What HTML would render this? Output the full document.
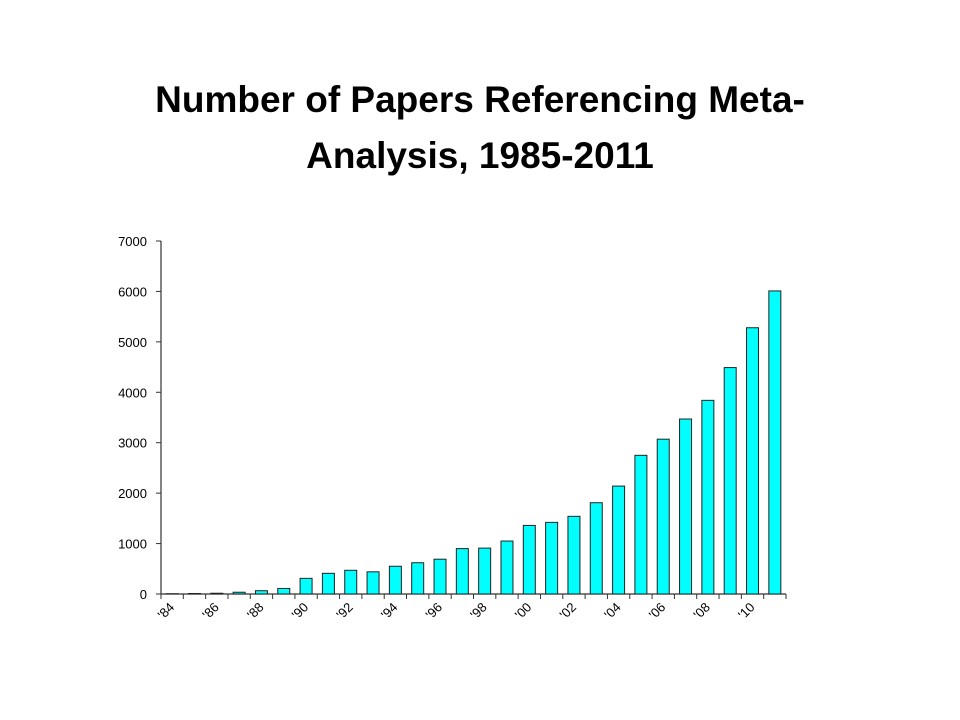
<!DOCTYPE html>
<html><head><meta charset="utf-8"><style>
html,body{margin:0;padding:0;background:#fff;}
#wrap{position:relative;width:960px;height:720px;overflow:hidden;font-family:"Liberation Sans",Arial,sans-serif;}
#title{position:absolute;left:0;top:72px;width:960px;text-align:center;font-weight:bold;font-size:37px;line-height:56px;color:#000;}
</style></head><body>
<div id="wrap">
<div id="title">Number of Papers Referencing Meta-<br>Analysis, 1985-2011</div>
<svg id="chart" width="960" height="720" style="position:absolute;left:0;top:0"></svg>
</div>
<script>
const categories=["'84","'85","'86","'87","'88","'89","'90","'91","'92","'93","'94","'95","'96","'97","'98","'99","'00","'01","'02","'03","'04","'05","'06","'07","'08","'09","'10","'11"];
const values=[5,10,15,35,65,110,310,410,470,440,550,620,690,900,910,1050,1360,1420,1540,1810,2140,2750,3070,3470,3840,4490,5280,6010];
const yTicks=[0,1000,2000,3000,4000,5000,6000,7000];
const NS="http://www.w3.org/2000/svg";
const svg=document.getElementById('chart');
const x0=161,x1=786,y0=594,yTop=241,yMax=7000;
const band=(x1-x0)/categories.length;
const yS=v=>y0-(v/yMax)*(y0-yTop);
const xC=i=>x0+band*(i+0.5);
function mk(t,a){const e=document.createElementNS(NS,t);for(const k in a)e.setAttribute(k,a[k]);svg.appendChild(e);return e;}
let e;
e=mk('line',{x1:x0,y1:yTop,x2:x0,y2:y0,stroke:'#333','stroke-width':1.2});


e=mk('line',{x1:x0,y1:y0,x2:x1,y2:y0,stroke:'#333','stroke-width':1.2});


yTicks.forEach(t=>{
  const y=yS(t);
  e=mk('line',{x1:x0-5,y1:y,x2:x0,y2:y,stroke:'#333'});
  
  
  e=mk('text',{x:147,y:y+5,'text-anchor':'end','font-size':13,fill:'#000'});
  e.textContent=t;
  
  
});
for(let i=0;i<=categories.length;i++){
  const x=x0+band*i;
  e=mk('line',{x1:x,y1:y0,x2:x,y2:y0+5,stroke:'#333'});
  
  
}
values.forEach((v,i)=>{
  const w=12,x=xC(i)-w/2,y=yS(v);
  e=mk('rect',{x:x,y:y,width:w,height:y0-y,fill:'#00ffff',stroke:'#222','stroke-width':1});
  
  
});
categories.forEach((c,i)=>{
  if(i%2) return;
  const x=xC(i)+3,y=y0+14;
  e=mk('text',{x:x,y:y,'text-anchor':'end','font-size':13,fill:'#000',transform:`rotate(-45 ${x} ${y})`});
  e.textContent=c;
  
  
});
</script>
</body></html>
